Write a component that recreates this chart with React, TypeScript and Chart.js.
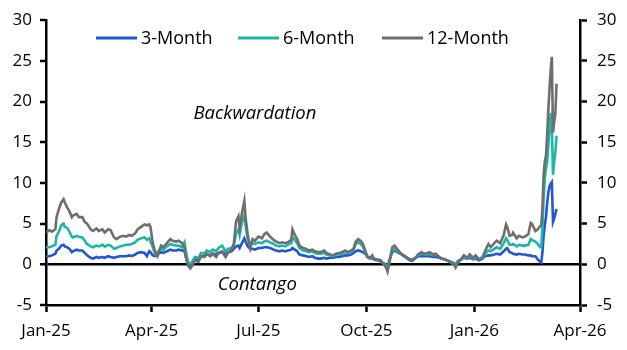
import { useEffect, useRef } from "react";
import { Chart, registerables } from "chart.js";
Chart.register(...registerables);

// day offsets from 1 Jan 2025
const days = [
  0, 3, 5, 8, 9, 11, 13, 15, 16, 18, 20, 22, 23, 26, 28, 31, 33, 35, 38, 40,
  43, 45, 48, 50, 53, 55, 58, 60, 63, 66, 68, 71, 73, 76, 78, 81, 84, 86, 88, 89,
  91, 93, 95, 98, 100, 103, 106, 108, 111, 113, 116, 118, 119, 121, 123, 124, 127, 130, 132, 135,
  137, 140, 142, 145, 147, 150, 153, 155, 158, 160, 162, 164, 165, 167, 169, 170, 172, 174, 176, 178,
  181, 184, 186, 188, 191, 194, 196, 199, 201, 204, 206, 209, 210, 212, 214, 216, 219, 222, 224, 227,
  229, 232, 234, 237, 239, 242, 245, 247, 250, 252, 255, 257, 260, 262, 264, 266, 268, 270, 272, 274,
  276, 278, 279, 282, 285, 286, 288, 290, 291, 293, 295, 297, 299, 302, 305, 307, 310, 312, 315, 317,
  320, 322, 325, 327, 330, 332, 335, 337, 340, 343, 345, 348, 349, 351, 354, 356, 359, 361, 364, 366,
  369, 372, 374, 377, 379, 382, 384, 387, 390, 392, 393, 395, 397, 398, 401, 403, 406, 408, 411, 413,
  414, 417, 419, 421, 422, 423, 424, 425, 426, 427, 428, 429, 430, 431, 432, 433, 434, 435,
];

const twelveMonth = [
  3.9, 4.2, 4.0, 4.3, 5.8, 6.8, 7.6, 8.0, 7.6, 7.0, 6.5, 5.8, 6.0, 6.2, 5.8, 5.8, 5.2, 5.0, 4.3, 4.1,
  4.4, 4.1, 4.3, 3.9, 4.3, 4.2, 3.3, 3.1, 3.4, 3.5, 3.4, 3.6, 3.5, 3.8, 4.3, 4.6, 4.9, 4.8, 4.9, 4.6,
  2.6, 1.5, 1.0, 2.3, 2.1, 2.6, 3.1, 2.9, 2.8, 2.9, 2.6, 2.0, 1.0, -0.2, -0.5, -0.3, 0.5, 0.3, 1.0, 0.9,
  1.3, 1.0, 1.3, 0.9, 1.4, 1.6, 0.9, 1.4, 1.8, 2.5, 5.3, 5.9, 4.5, 6.3, 7.8, 5.8, 3.5, 2.0, 3.1, 2.9,
  3.4, 3.2, 3.7, 3.9, 3.4, 3.0, 2.8, 2.6, 2.7, 2.6, 2.7, 3.0, 4.3, 3.6, 3.1, 2.3, 2.0, 1.9, 1.7, 1.8,
  1.6, 1.5, 1.5, 1.7, 1.4, 1.2, 1.1, 1.3, 1.4, 1.5, 1.7, 1.5, 1.7, 1.9, 2.8, 3.1, 2.9, 2.5, 1.7, 0.9,
  0.8, 1.1, 0.7, 0.6, 0.5, 0.3, 0.0, -0.5, -0.9, 0.5, 2.1, 2.3, 1.9, 1.4, 1.0, 0.8, 0.5, 0.4, 0.8, 1.2,
  1.5, 1.3, 1.4, 1.5, 1.2, 1.3, 0.9, 0.7, 0.6, 0.4, 0.2, -0.1, -0.4, 0.2, 0.7, 1.1, 0.8, 1.2, 0.8, 1.1,
  0.6, 0.9, 1.6, 2.5, 2.1, 2.6, 2.9, 2.6, 3.6, 4.9, 4.6, 3.5, 3.6, 3.9, 3.2, 3.5, 3.3, 3.4, 3.7, 5.1,
  5.0, 4.1, 4.3, 4.7, 4.8, 7.0, 11.0, 12.6, 13.3, 15.8, 19.0, 21.5, 23.8, 25.5, 16.2, 17.5, 18.5, 22.2,
];

const sixMonth = [
  2.1, 2.1, 2.2, 2.4, 3.5, 4.0, 4.8, 5.0, 4.6, 4.5, 4.0, 3.4, 3.3, 3.5, 3.4, 3.3, 2.9, 2.5, 2.2, 2.1,
  2.3, 2.2, 2.4, 2.2, 2.4, 2.3, 1.9, 2.0, 2.2, 2.3, 2.4, 2.4, 2.5, 2.7, 3.0, 3.2, 3.3, 3.0, 3.2, 2.8,
  2.1, 1.3, 1.5, 1.9, 1.8, 2.2, 2.5, 2.4, 2.3, 2.3, 2.1, 2.7, 1.8, 0.3, 0.1, 0.2, 0.9, 0.8, 1.4, 1.3,
  1.7, 1.5, 1.8, 1.6, 2.0, 2.3, 1.6, 1.9, 2.0, 2.3, 3.8, 4.3, 3.6, 5.2, 6.0, 4.8, 3.0, 2.4, 2.6, 2.5,
  2.7, 2.6, 2.8, 2.9, 2.7, 2.5, 2.3, 2.2, 2.3, 2.2, 2.4, 2.6, 3.3, 3.0, 2.6, 2.0, 1.7, 1.6, 1.5, 1.6,
  1.4, 1.3, 1.3, 1.4, 1.2, 1.1, 1.0, 1.2, 1.2, 1.3, 1.5, 1.4, 1.6, 1.8, 2.5, 2.7, 2.5, 2.2, 1.5, 0.9,
  0.8, 1.0, 0.7, 0.6, 0.5, 0.3, 0.1, -0.2, -0.5, 0.6, 1.7, 1.9, 1.6, 1.3, 1.0, 0.8, 0.5, 0.5, 0.8, 1.1,
  1.3, 1.2, 1.2, 1.3, 1.1, 1.2, 0.9, 0.7, 0.6, 0.4, 0.3, 0.1, -0.1, 0.3, 0.6, 0.9, 0.8, 1.0, 0.7, 0.9,
  0.6, 0.8, 1.3, 1.7, 1.6, 1.9, 2.1, 1.9, 2.6, 3.2, 3.0, 2.4, 2.4, 2.5, 2.2, 2.4, 2.3, 2.3, 2.4, 3.1,
  3.0, 2.8, 2.5, 2.1, 2.2, 4.5, 8.0, 10.5, 11.8, 12.5, 14.5, 16.5, 18.6, 17.0, 11.0, 12.5, 13.8, 15.8,
];

const threeMonth = [
  1.0, 1.0, 1.1, 1.3, 1.7, 1.9, 2.3, 2.4, 2.2, 2.1, 1.9, 1.5, 1.6, 1.8, 1.7, 1.7, 1.4, 1.1, 0.8, 0.7,
  0.9, 0.8, 0.9, 0.8, 1.0, 0.9, 0.8, 0.9, 1.0, 1.0, 1.0, 1.1, 1.0, 1.2, 1.4, 1.5, 1.4, 1.0, 1.6, 1.5,
  1.1, 1.0, 1.2, 1.5, 1.4, 1.6, 1.8, 1.7, 1.7, 1.8, 1.7, 1.6, 1.0, 0.2, 0.0, 0.1, 0.7, 0.6, 1.0, 1.0,
  1.2, 1.1, 1.3, 1.2, 1.4, 1.5, 1.3, 1.5, 1.6, 1.9, 2.2, 2.3, 2.0, 2.6, 3.2, 2.8, 2.2, 1.9, 1.9, 1.8,
  2.0, 2.0, 2.1, 2.1, 2.0, 1.8, 1.7, 1.6, 1.7, 1.6, 1.7, 1.8, 2.0, 1.8, 1.6, 1.2, 1.1, 1.0, 0.9, 1.0,
  0.8, 0.7, 0.7, 0.8, 0.7, 0.8, 0.8, 0.9, 0.9, 1.0, 1.1, 1.1, 1.2, 1.4, 1.6, 1.7, 1.6, 1.5, 1.3, 0.9,
  0.7, 0.8, 0.6, 0.5, 0.4, 0.2, 0.1, -0.1, -0.3, 0.7, 1.5, 1.7, 1.5, 1.3, 1.1, 0.9, 0.6, 0.6, 0.8, 1.0,
  1.0, 1.0, 1.0, 1.0, 0.9, 0.9, 0.8, 0.7, 0.6, 0.4, 0.3, 0.1, 0.0, 0.4, 0.6, 0.8, 0.7, 0.8, 0.6, 0.7,
  0.5, 0.7, 1.0, 1.1, 1.1, 1.2, 1.3, 1.2, 1.6, 1.9, 2.0, 1.5, 1.4, 1.3, 1.2, 1.3, 1.2, 1.2, 1.1, 1.1,
  1.0, 1.0, 0.6, 0.3, 0.2, 1.5, 3.5, 4.8, 5.8, 7.5, 8.8, 9.6, 9.9, 10.1, 5.2, 5.6, 6.2, 6.8,
];

const seriesNames = ["3-Month", "6-Month", "12-Month"];
const seriesColors = ["#2157D3", "#1DB7A7", "#6E6E6E"];
const xTickDays = [0, 90, 181, 273, 365, 455];
const xTickLabels = ["Jan-25", "Apr-25", "Jul-25", "Oct-25", "Jan-26", "Apr-26"];
const annotationTexts = ["Backwardation", "Contango"];

const FONT = "'Open Sans', sans-serif";

const overlayPlugin = {
  id: "overlay",
  afterDraw(chart: any) {
    const ctx = chart.ctx;
    ctx.save();
    // legend
    const legendX = [96, 238, 382];
    const legendY = 38;
    ctx.font = `18px ${FONT}`;
    ctx.textBaseline = "middle";
    ctx.textAlign = "left";
    seriesNames.forEach((name, i) => {
      ctx.strokeStyle = seriesColors[i];
      ctx.lineWidth = 3;
      ctx.beginPath();
      ctx.moveTo(legendX[i], legendY);
      ctx.lineTo(legendX[i] + 41, legendY);
      ctx.stroke();
      ctx.fillStyle = "#000";
      ctx.fillText(name, legendX[i] + 45, legendY + 1);
    });
    // annotations
    const xs = chart.scales.x;
    const ys = chart.scales.y;
    ctx.font = `italic 18.5px ${FONT}`;
    ctx.textAlign = "center";
    ctx.fillStyle = "#000";
    ctx.fillText(annotationTexts[0], xs.getPixelForValue(178), ys.getPixelForValue(18.5));
    ctx.fillText(annotationTexts[1], xs.getPixelForValue(180), ys.getPixelForValue(-2.5));
    ctx.restore();
  },
};

export default function App() {
  const ref = useRef<HTMLCanvasElement>(null);
  useEffect(() => {
    if (!ref.current) return;
    const mk = (vals: number[]) => days.map((d, i) => ({ x: d, y: vals[i] }));
    const tickFont = { family: FONT, size: 17 };
    const chart = new Chart(ref.current, {
      type: "line",
      data: {
        datasets: [
          { label: seriesNames[0], data: mk(threeMonth), borderColor: seriesColors[0], order: 2 },
          { label: seriesNames[1], data: mk(sixMonth), borderColor: seriesColors[1], order: 1 },
          { label: seriesNames[2], data: mk(twelveMonth), borderColor: seriesColors[2], order: 0 },
        ].map((d) => ({ ...d, borderWidth: 2.6, pointRadius: 0, tension: 0, fill: false })),
      },
      options: {
        animation: false,
        responsive: false,
        layout: { padding: { top: 16, left: 0, right: 0, bottom: 0 } },
        plugins: { legend: { display: false }, tooltip: { enabled: false } },
        scales: {
          x: {
            type: "linear",
            min: 0,
            max: 455,
            afterBuildTicks: (s: any) => {
              s.ticks = xTickDays.map((v) => ({ value: v }));
            },
            afterFit: (s: any) => {
              s.height = 45;
            },
            ticks: {
              callback: (v: any) => {
                const i = xTickDays.indexOf(Number(v));
                return i >= 0 ? xTickLabels[i] : "";
              },
              font: tickFont,
              color: "#000",
              maxRotation: 0,
              autoSkip: false,
              padding: 9,
            },
            grid: { drawOnChartArea: false, tickLength: 7, tickColor: "#000", tickWidth: 2.5 },
            border: { color: "#000", width: 2.5 },
          },
          y: {
            position: "left",
            min: -5,
            max: 30,
            ticks: { stepSize: 5, font: tickFont, color: "#000", padding: 8 },
            afterFit: (s: any) => {
              s.width = 46;
            },
            grid: {
              drawOnChartArea: true,
              color: (c: any) => (c.tick && c.tick.value === 0 ? "#000" : "rgba(0,0,0,0)"),
              lineWidth: (c: any) => (c.tick && c.tick.value === 0 ? 2.5 : 0),
              tickLength: 6,
              tickColor: "#000",
              tickWidth: 2.5,
            },
            border: { color: "#000", width: 2.5 },
          },
          y2: {
            position: "right",
            min: -5,
            max: 30,
            ticks: { stepSize: 5, font: tickFont, color: "#000", padding: 10 },
            afterFit: (s: any) => {
              s.width = 47;
            },
            grid: { drawOnChartArea: false, tickLength: 7, tickColor: "#000", tickWidth: 2.5 },
            border: { color: "#000", width: 2.5 },
          },
        },
      },
      plugins: [overlayPlugin],
    } as any);
    return () => chart.destroy();
  }, []);
  return (
    <div style={{ position: "fixed", left: 0, top: 0, width: 627, height: 350, background: "#fff" }}>
      <canvas ref={ref} width={627} height={350} />
    </div>
  );
}
